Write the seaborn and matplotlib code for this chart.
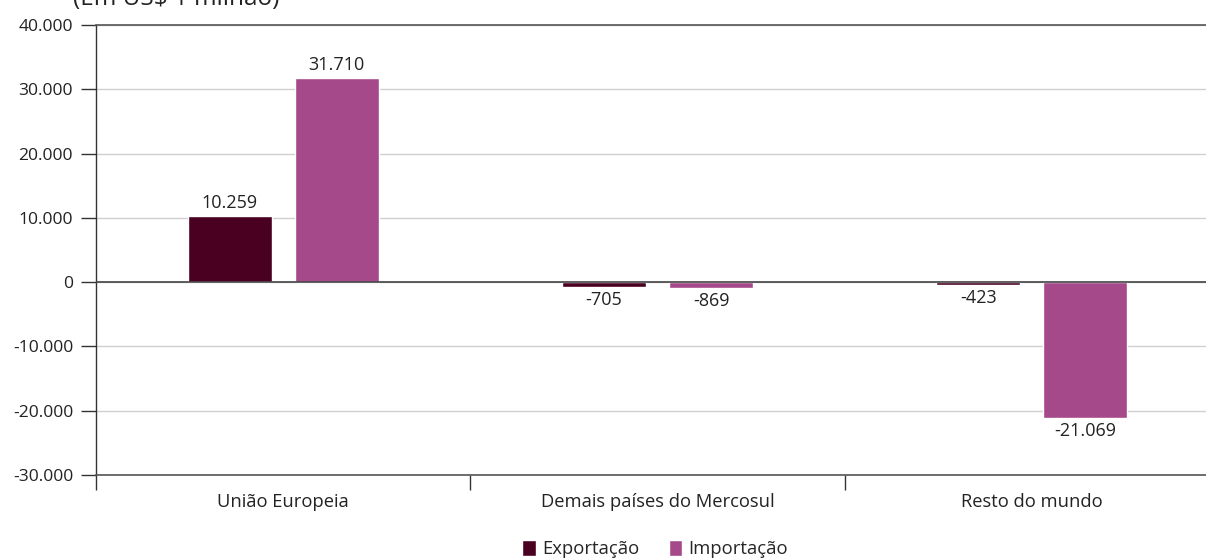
import matplotlib
matplotlib.use("Agg")
import matplotlib.pyplot as plt
import seaborn as sns
import pandas as pd
from matplotlib.ticker import FuncFormatter, FixedLocator

categories = ["União Europeia", "Demais países do Mercosul", "Resto do mundo"]
exportacao = [10259, -705, -423]
importacao = [31710, -869, -21069]
series_names = ["Exportação", "Importação"]
colors = ["#4a0020", "#a5498a"]
y_ticks = [-30000, -20000, -10000, 0, 10000, 20000, 30000, 40000]
title = "(Em US$ 1 milhão)"

df = pd.DataFrame({
    "cat": categories * 2,
    "serie": [series_names[0]] * 3 + [series_names[1]] * 3,
    "valor": exportacao + importacao,
})

sns.set_theme(style="white")
plt.rcParams["font.family"] = ["Open Sans", "DejaVu Sans"]

def fmt(v):
    s = f"{abs(int(round(v))):,}".replace(",", ".")
    return ("-" if v < 0 else "") + s

fig = plt.figure(figsize=(12.06, 5.58), dpi=100)
ax = fig.add_axes([96 / 1206, 83 / 558, (1219 - 96) / 1206, 450 / 558])

sns.barplot(data=df, x="cat", y="valor", hue="serie", order=categories,
            hue_order=series_names, palette=colors, width=0.572, gap=0.213,
            saturation=1, ax=ax, legend=True, errorbar=None)

ax.set_xlim(-0.5, 2.5)
ax.set_ylim(-30000, 40000)
ax.yaxis.set_major_locator(FixedLocator(y_ticks))
ax.yaxis.set_major_formatter(FuncFormatter(lambda v, p: fmt(v)))
ax.grid(axis="y", color="#d0d0d0", linewidth=1)
ax.set_axisbelow(True)
ax.axhline(0, color="#444444", linewidth=1.2, zorder=3)

ax.spines["right"].set_visible(False)
for s in ["top", "bottom"]:
    ax.spines[s].set_color("#555555")
    ax.spines[s].set_linewidth(1.2)
ax.spines["left"].set_color("#333333")
ax.spines["left"].set_linewidth(1)

ax.tick_params(axis="y", which="major", length=11, width=1, color="#333333",
               labelsize=12.6, labelcolor="#222222", pad=5.5, left=True)
ax.xaxis.set_minor_locator(FixedLocator([-0.5, 0.5, 1.5, 2.5]))
ax.tick_params(axis="x", which="minor", length=11, width=1, color="#333333", bottom=True)
ax.tick_params(axis="x", which="major", length=0, labelsize=13.2, labelcolor="#222222", pad=13)
ax.set_xlabel("")
ax.set_ylabel("")

for cont in ax.containers:
    ax.bar_label(cont, labels=[fmt(v) for v in cont.datavalues], padding=3,
                 fontsize=13, color="#222222")

leg = ax.legend(loc="center", bbox_to_anchor=(655 / 1206, 1 - 549 / 558),
                bbox_transform=fig.transFigure, ncol=2, frameon=False,
                fontsize=13.3, handlelength=0.75, handleheight=1.0,
                handletextpad=0.3, columnspacing=1.6, borderpad=0)

fig.text(73 / 1206, 1 - 5 / 558, title, fontsize=17.5, color="#222222",
         ha="left", va="baseline")

fig.savefig("out.png", dpi=100)
